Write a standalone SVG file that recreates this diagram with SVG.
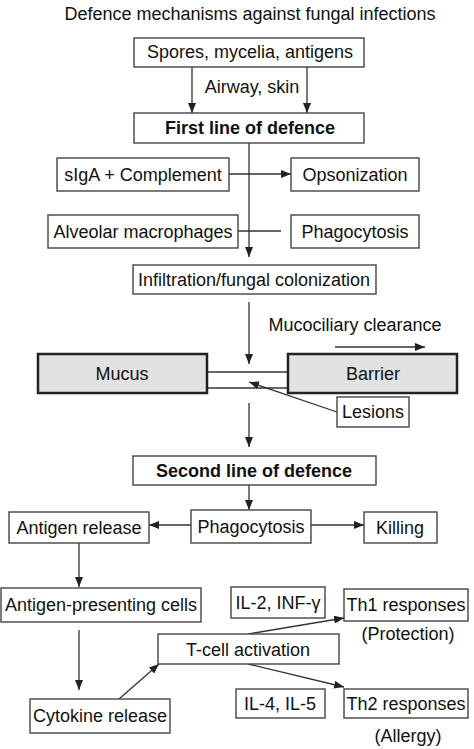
<svg xmlns="http://www.w3.org/2000/svg" width="474" height="749" viewBox="0 0 474 749">
<defs>
<marker id="ah" markerUnits="userSpaceOnUse" markerWidth="10" markerHeight="8" refX="10" refY="4" orient="auto">
<path d="M0,0 L10,4 L0,8 z" fill="#222"/>
</marker>
<style>
text{font-family:"Liberation Sans",Arial,sans-serif;font-size:18px;fill:#111;text-anchor:middle}
.b{font-weight:bold}
.box{fill:#fff;stroke:#444;stroke-width:1.4}
.gbox{fill:#e2e2e2;stroke:#222;stroke-width:2.5}
.c line{stroke:#333;stroke-width:1.3}
.a{marker-end:url(#ah)}
</style>
</defs>
<rect width="474" height="749" fill="#fff"/>
<text x="250" y="20">Defence mechanisms against fungal infections</text>
<g class="c" id="connectors">
<line class="a" x1="192" y1="67" x2="192" y2="113"/>
<line class="a" x1="307" y1="67" x2="307" y2="113"/>
<line class="a" x1="249" y1="143" x2="249" y2="257"/>
<line class="a" x1="229" y1="174" x2="291" y2="174"/>
<line x1="238" y1="231" x2="281" y2="231"/>
<line class="a" x1="249" y1="302" x2="249" y2="364"/>
<line class="a" x1="335" y1="347" x2="425" y2="347"/>
<line x1="207" y1="372" x2="288" y2="372"/>
<line x1="207" y1="388" x2="288" y2="388"/>
<line class="a" x1="337" y1="412" x2="249" y2="382"/>
<line class="a" x1="249" y1="403" x2="249" y2="447"/>
<line class="a" x1="249" y1="485" x2="249" y2="510"/>
<line class="a" x1="191" y1="525" x2="149" y2="525"/>
<line class="a" x1="311" y1="525" x2="364" y2="525"/>
<line class="a" x1="79" y1="543" x2="79" y2="587"/>
<line class="a" x1="79" y1="630" x2="79" y2="690"/>
<line class="a" x1="119" y1="699" x2="159" y2="664"/>
<line class="a" x1="248" y1="634" x2="344" y2="618"/>
<line class="a" x1="248" y1="664" x2="344" y2="687"/>
</g>
<g id="spores"><rect class="box" x="134" y="38" width="230" height="29"/><text x="250" y="58">Spores, mycelia, antigens</text></g>
<g id="airway"><text x="252" y="93">Airway, skin</text></g>
<g id="first"><rect class="box" x="134" y="113" width="230" height="30"/><text class="b" x="250" y="134">First line of defence</text></g>
<g id="siga"><rect class="box" x="57" y="158" width="172" height="33"/><text x="143" y="181">sIgA + Complement</text></g>
<g id="opsonization"><rect class="box" x="291" y="158" width="128" height="33"/><text x="355" y="181">Opsonization</text></g>
<g id="alveolar"><rect class="box" x="48" y="215" width="190" height="33"/><text x="143" y="238">Alveolar macrophages</text></g>
<g id="phago1"><rect class="box" x="291" y="215" width="128" height="33"/><text x="355" y="238">Phagocytosis</text></g>
<g id="infiltration"><rect class="box" x="133" y="265" width="243" height="29"/><text x="254" y="286">Infiltration/fungal colonization</text></g>
<g id="mucociliary"><text x="355" y="331">Mucociliary clearance</text></g>
<g id="mucus"><rect class="gbox" x="38" y="354" width="169" height="39"/><text x="122" y="380">Mucus</text></g>
<g id="barrier"><rect class="gbox" x="288" y="354" width="169" height="39"/><text x="373" y="380">Barrier</text></g>
<g id="lesions"><rect class="box" x="337" y="397" width="72" height="30"/><text x="373" y="418">Lesions</text></g>
<g id="second"><rect class="box" x="133" y="456" width="243" height="29"/><text class="b" x="254" y="477">Second line of defence</text></g>
<g id="phago2"><rect class="box" x="191" y="510" width="120" height="33"/><text x="251" y="533">Phagocytosis</text></g>
<g id="antigenrelease"><rect class="box" x="9" y="512" width="140" height="31"/><text x="79" y="534">Antigen release</text></g>
<g id="killing"><rect class="box" x="364" y="512" width="73" height="31"/><text x="400" y="534">Killing</text></g>
<g id="apc"><rect class="box" x="1" y="588" width="200" height="34"/><text x="101" y="611">Antigen-presenting cells</text></g>
<g id="cytokine"><rect class="box" x="30" y="699" width="140" height="34"/><text x="100" y="722">Cytokine release</text></g>
<g id="tcell"><rect class="box" x="158" y="634" width="181" height="30"/><text x="248" y="656">T-cell activation</text></g>
<g id="il2"><rect class="box" x="231" y="587" width="94" height="31"/><text x="278" y="609">IL-2, INF-γ</text></g>
<g id="th1"><rect class="box" x="344" y="589" width="124" height="32"/><text x="406" y="611">Th1 responses</text><text x="408" y="640">(Protection)</text></g>
<g id="il4"><rect class="box" x="236" y="689" width="89" height="29"/><text x="280" y="710">IL-4, IL-5</text></g>
<g id="th2"><rect class="box" x="344" y="689" width="124" height="29"/><text x="406" y="710">Th2 responses</text><text x="408" y="742">(Allergy)</text></g>
</svg>
